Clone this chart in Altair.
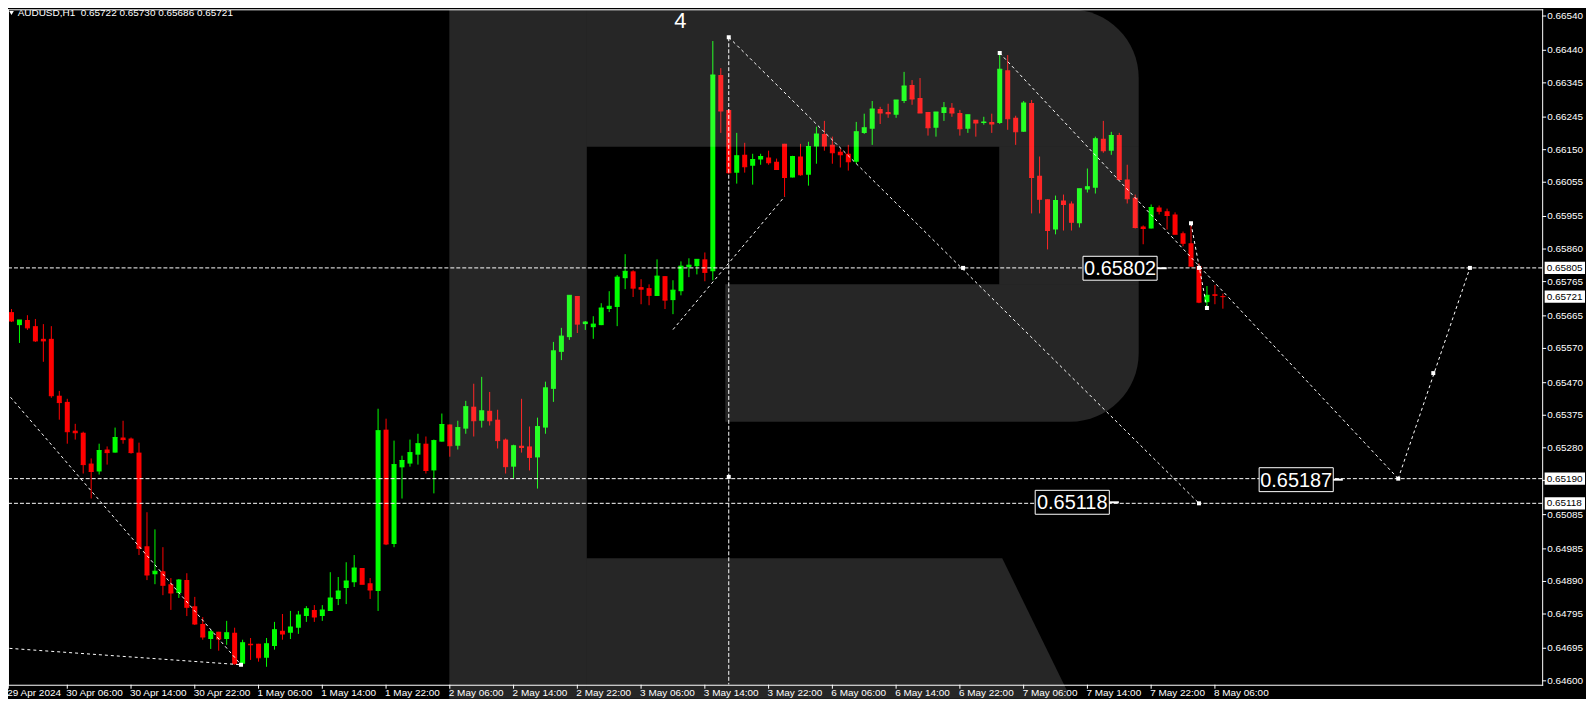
import altair as alt
import numpy as np
import pandas as pd

# ---------------- data (AUDUSD, H1) ----------------
opens = [
    0.65679, 0.65676, 0.65638, 0.65653, 0.65635, 0.65598, 0.65598, 0.65432, 0.65414, 0.65330,
    0.65324, 0.65234, 0.65211, 0.65275, 0.65266, 0.65310, 0.65307, 0.65266, 0.64993, 0.64911,
    0.64920, 0.64882, 0.64856, 0.64894, 0.64818, 0.64766, 0.64722, 0.64743, 0.64722, 0.64740,
    0.64650, 0.64708, 0.64708, 0.64667, 0.64702, 0.64746, 0.64740, 0.64755, 0.64789, 0.64807,
    0.64789, 0.64804, 0.64839, 0.64871, 0.64888, 0.64929, 0.64885, 0.64862, 0.65333, 0.64999,
    0.65223, 0.65234, 0.65260, 0.65292, 0.65214, 0.65298, 0.65348, 0.65286, 0.65336, 0.65400,
    0.65359, 0.65388, 0.65362, 0.65304, 0.65225, 0.65286, 0.65284, 0.65252, 0.65339, 0.65452,
    0.65560, 0.65603, 0.65723, 0.65641, 0.65632, 0.65638, 0.65685, 0.65691, 0.65775, 0.65795,
    0.65749, 0.65746, 0.65723, 0.65781, 0.65711, 0.65737, 0.65807, 0.65810, 0.65830, 0.65795,
    0.66368, 0.66266, 0.66083, 0.66135, 0.66103, 0.66121, 0.66127, 0.66115, 0.66167, 0.66069,
    0.66130, 0.66077, 0.66159, 0.66196, 0.66164, 0.66144, 0.66138, 0.66115, 0.66199, 0.66211,
    0.66269, 0.66260, 0.66252, 0.66292, 0.66339, 0.66301, 0.66260, 0.66214, 0.66257, 0.66272,
    0.66257, 0.66211, 0.66237, 0.66228, 0.66231, 0.66228, 0.66382, 0.66243, 0.66202, 0.66286,
    0.66074, 0.66005, 0.65917, 0.66002, 0.65993, 0.65935, 0.66034, 0.66039, 0.66182, 0.66147,
    0.66193, 0.66063, 0.66010, 0.65926, 0.65920, 0.65981, 0.65970, 0.65961, 0.65906, 0.65877,
    0.65810, 0.65705, 0.65728, 0.65722,
]
highs = [
    0.65679, 0.65685, 0.65653, 0.65667, 0.65656, 0.65641, 0.65635, 0.65446, 0.65423, 0.65350,
    0.65327, 0.65249, 0.65292, 0.65284, 0.65339, 0.65359, 0.65310, 0.65295, 0.65092, 0.65042,
    0.64990, 0.64900, 0.64897, 0.64914, 0.64845, 0.64786, 0.64749, 0.64743, 0.64775, 0.64755,
    0.64720, 0.64725, 0.64708, 0.64725, 0.64772, 0.64795, 0.64804, 0.64804, 0.64818, 0.64821,
    0.64821, 0.64917, 0.64903, 0.64946, 0.64967, 0.64929, 0.64900, 0.65394, 0.65365, 0.65301,
    0.65257, 0.65304, 0.65321, 0.65313, 0.65304, 0.65380, 0.65348, 0.65359, 0.65417, 0.65467,
    0.65487, 0.65443, 0.65391, 0.65307, 0.65289, 0.65423, 0.65342, 0.65368, 0.65473, 0.65589,
    0.65630, 0.65725, 0.65723, 0.65650, 0.65664, 0.65702, 0.65737, 0.65784, 0.65845, 0.65798,
    0.65772, 0.65757, 0.65830, 0.65781, 0.65769, 0.65824, 0.65833, 0.65830, 0.65850, 0.66467,
    0.66388, 0.66269, 0.66199, 0.66170, 0.66138, 0.66138, 0.66147, 0.66124, 0.66167, 0.66132,
    0.66167, 0.66173, 0.66217, 0.66234, 0.66188, 0.66153, 0.66164, 0.66231, 0.66255, 0.66292,
    0.66275, 0.66284, 0.66295, 0.66377, 0.66353, 0.66359, 0.66260, 0.66260, 0.66289, 0.66286,
    0.66266, 0.66252, 0.66237, 0.66246, 0.66255, 0.66432, 0.66426, 0.66249, 0.66292, 0.66295,
    0.66130, 0.66005, 0.66016, 0.66019, 0.65999, 0.66036, 0.66095, 0.66188, 0.66234, 0.66202,
    0.66199, 0.66106, 0.66019, 0.65929, 0.65990, 0.65987, 0.65978, 0.65967, 0.65911, 0.65929,
    0.65818, 0.65752, 0.65755, 0.65730,
]
lows = [
    0.65586, 0.65647, 0.65586, 0.65624, 0.65589, 0.65531, 0.65426, 0.65362, 0.65292, 0.65304,
    0.65205, 0.65132, 0.65202, 0.65231, 0.65266, 0.65292, 0.65263, 0.64967, 0.64894, 0.64882,
    0.64850, 0.64807, 0.64842, 0.64789, 0.64763, 0.64720, 0.64693, 0.64688, 0.64705, 0.64647,
    0.64647, 0.64661, 0.64656, 0.64641, 0.64691, 0.64720, 0.64722, 0.64737, 0.64772, 0.64772,
    0.64775, 0.64804, 0.64821, 0.64824, 0.64874, 0.64882, 0.64839, 0.64804, 0.64996, 0.64990,
    0.65132, 0.65225, 0.65231, 0.65205, 0.65147, 0.65298, 0.65254, 0.65275, 0.65321, 0.65313,
    0.65339, 0.65345, 0.65278, 0.65205, 0.65191, 0.65266, 0.65214, 0.65161, 0.65321, 0.65414,
    0.65536, 0.65595, 0.65615, 0.65624, 0.65598, 0.65638, 0.65676, 0.65635, 0.65743, 0.65720,
    0.65699, 0.65696, 0.65723, 0.65685, 0.65670, 0.65725, 0.65778, 0.65786, 0.65766, 0.65769,
    0.66199, 0.66080, 0.66051, 0.66083, 0.66048, 0.66106, 0.66106, 0.66092, 0.66013, 0.66069,
    0.66074, 0.66045, 0.66109, 0.66147, 0.66109, 0.66098, 0.66089, 0.66109, 0.66196, 0.66164,
    0.66225, 0.66243, 0.66243, 0.66286, 0.66281, 0.66257, 0.66191, 0.66188, 0.66234, 0.66246,
    0.66191, 0.66199, 0.66188, 0.66223, 0.66199, 0.66225, 0.66208, 0.66164, 0.66202, 0.65964,
    0.65964, 0.65859, 0.65903, 0.65914, 0.65914, 0.65923, 0.66025, 0.66022, 0.66141, 0.66135,
    0.66063, 0.65993, 0.65920, 0.65874, 0.65920, 0.65961, 0.65917, 0.65903, 0.65868, 0.65810,
    0.65702, 0.65691, 0.65699, 0.65686,
]
closes = [
    0.65670, 0.65650, 0.65653, 0.65630, 0.65592, 0.65592, 0.65432, 0.65412, 0.65327, 0.65324,
    0.65231, 0.65211, 0.65272, 0.65266, 0.65310, 0.65304, 0.65266, 0.64987, 0.64909, 0.64920,
    0.64879, 0.64856, 0.64894, 0.64815, 0.64766, 0.64728, 0.64743, 0.64722, 0.64740, 0.64650,
    0.64711, 0.64705, 0.64667, 0.64708, 0.64749, 0.64737, 0.64757, 0.64792, 0.64810, 0.64786,
    0.64807, 0.64842, 0.64862, 0.64891, 0.64929, 0.64882, 0.64865, 0.65330, 0.64999, 0.65231,
    0.65243, 0.65266, 0.65292, 0.65214, 0.65301, 0.65348, 0.65286, 0.65339, 0.65400, 0.65359,
    0.65388, 0.65359, 0.65301, 0.65225, 0.65286, 0.65281, 0.65252, 0.65342, 0.65455, 0.65563,
    0.65606, 0.65725, 0.65641, 0.65647, 0.65641, 0.65688, 0.65693, 0.65778, 0.65795, 0.65746,
    0.65743, 0.65725, 0.65781, 0.65711, 0.65740, 0.65810, 0.65813, 0.65830, 0.65792, 0.66368,
    0.66263, 0.66083, 0.66132, 0.66100, 0.66121, 0.66130, 0.66112, 0.66092, 0.66069, 0.66130,
    0.66077, 0.66159, 0.66196, 0.66161, 0.66141, 0.66135, 0.66115, 0.66202, 0.66214, 0.66269,
    0.66257, 0.66255, 0.66295, 0.66336, 0.66298, 0.66257, 0.66214, 0.66260, 0.66272, 0.66257,
    0.66211, 0.66252, 0.66228, 0.66231, 0.66225, 0.66385, 0.66240, 0.66202, 0.66286, 0.66069,
    0.66005, 0.65914, 0.66002, 0.65990, 0.65938, 0.66036, 0.66042, 0.66182, 0.66147, 0.66191,
    0.66063, 0.66007, 0.65923, 0.65920, 0.65981, 0.65970, 0.65958, 0.65903, 0.65877, 0.65810,
    0.65705, 0.65725, 0.65725, 0.65721,
]

time_labels = [
    "29 Apr 2024", "30 Apr 06:00", "30 Apr 14:00", "30 Apr 22:00", "1 May 06:00",
    "1 May 14:00", "1 May 22:00", "2 May 06:00", "2 May 14:00", "2 May 22:00",
    "3 May 06:00", "3 May 14:00", "3 May 22:00", "6 May 06:00", "6 May 14:00",
    "6 May 22:00", "7 May 06:00", "7 May 14:00", "7 May 22:00", "8 May 06:00",
]
time_ticks = [0.6, 8, 16, 24, 32, 40, 48, 56, 64, 72, 80, 88, 96, 104, 112, 120, 128, 136, 144, 152]

price_ticks = [
    0.66540, 0.66440, 0.66345, 0.66245, 0.66150, 0.66055, 0.65955, 0.65860, 0.65765, 0.65665,
    0.65570, 0.65470, 0.65375, 0.65280, 0.65185, 0.65085, 0.64985, 0.64890, 0.64795, 0.64695,
    0.64600,
]

level_prices = [0.65805, 0.65190, 0.65118]

# forecast / wave lines (bar index, price)
seg_ids = ["a", "a", "b", "b", "c", "c", "d", "d", "e", "e", "f", "f", "g", "g"]
seg_bars = [-0.1, 29.8, 0.0, 29.8, 84.0, 98.0, 91.0, 150.0, 125.0, 175.0, 149.0, 151.0, 175.0, 184.0]
seg_prices = [0.65454, 0.64647, 0.64696, 0.64647, 0.65625, 0.66013, 0.66478, 0.65118,
              0.66432, 0.65190, 0.65935, 0.65688, 0.65190, 0.65805]
vline_bar = [91.0]
vline_top = [0.66478]
vline_bottom = [0.64589]

marker_bars = [91, 125, 149, 151, 150, 120.4, 150, 175, 179.4, 184, 91, 29.8]
marker_prices = [0.66478, 0.66432, 0.65935, 0.65688, 0.65805, 0.65805, 0.65118, 0.65190,
                 0.65498, 0.65805, 0.65195, 0.64647]

box_texts = ["0.65802", "0.65187", "0.65118"]
box_bars = [140.1, 162.2, 134.1]
box_prices = [0.65804, 0.65187, 0.65121]

tag_texts = ["0.65805", "0.65721", "0.65190", "0.65118"]
tag_prices = [0.65805, 0.65721, 0.65190, 0.65118]

wave_labels = ["4"]
title_text = ["AUDUSD,H1\u00a0\u00a00.65722 0.65730 0.65686 0.65721"]

# ---------------- geometry ----------------
W, H = 1540, 678
X_DOM = [0.5625, 193.0625]
Y_TOP, Y_BOT = 0.665596, 0.645886
xscale = alt.Scale(domain=X_DOM, nice=False, zero=False)
yscale = alt.Scale(domain=[Y_BOT, Y_TOP], nice=False, zero=False)
FONT = "Liberation Sans"


def X(f):
    return alt.X(f, type="quantitative", scale=xscale, axis=None)


def Y(f):
    return alt.Y(f, type="quantitative", scale=yscale, axis=None)


# ---------------- candles ----------------
cd = pd.DataFrame({"i": np.arange(len(opens)), "o": opens, "h": highs, "l": lows, "c": closes})
cd["dir"] = np.where(cd["c"] >= cd["o"], "up", "down")
col = alt.Color("dir:N", scale=alt.Scale(domain=["up", "down"], range=["#00ff00", "#ff0000"]), legend=None)

wick = alt.Chart(cd).mark_rule(strokeWidth=1, clip=True).encode(
    x=X("i"), y=Y("l"), y2="h:Q", color=col)
body = alt.Chart(cd).mark_rule(strokeWidth=5, strokeCap="butt", clip=True).encode(
    x=X("i"), y=Y("o"), y2="c:Q", color=col)
doji = alt.Chart(cd).mark_tick(orient="horizontal", size=5, thickness=1, opacity=1, clip=True).encode(
    x=X("i"), y=Y("c"), color=col)

# ---------------- axes drawn as marks ----------------
yt = pd.DataFrame({"p": price_ticks, "t": ["%.5f" % v for v in price_ticks]})
y_ticks = alt.Chart(yt).mark_rule(color="white", strokeWidth=1, clip=False).encode(
    x=alt.value(W), x2=alt.value(W + 4), y=Y("p"))
y_labels = alt.Chart(yt).mark_text(font=FONT, fontSize=10, color="white", align="left",
                                   baseline="middle", clip=False).encode(
    x=alt.value(W + 5), y=Y("p"), text="t:N")

xt = pd.DataFrame({"i": time_ticks, "t": time_labels})
x_ticks = alt.Chart(xt).mark_rule(color="white", strokeWidth=1, clip=False).encode(
    x=X("i"), y=alt.value(H), y2=alt.value(H + 4))
x_labels = alt.Chart(xt).mark_text(font=FONT, fontSize=10, color="white", align="left",
                                   baseline="top", dx=-1, clip=False).encode(
    x=X("i"), y=alt.value(H + 3.5), text="t:N")

# ---------------- levels & forecast lines ----------------
levels = alt.Chart(pd.DataFrame({"p": level_prices})).mark_rule(
    color="white", strokeWidth=1, strokeDash=[4, 2]).encode(y=Y("p"))

segs = pd.DataFrame({"seg": seg_ids, "i": seg_bars, "p": seg_prices})
fore = alt.Chart(segs).mark_line(color="white", strokeWidth=1, strokeDash=[3, 3], clip=True).encode(
    x=X("i"), y=Y("p"), detail="seg:N")

vline = alt.Chart(pd.DataFrame({"i": vline_bar, "p": vline_top, "p2": vline_bottom})).mark_rule(
    color="white", strokeWidth=1, strokeDash=[4, 2], clip=True).encode(x=X("i"), y=Y("p"), y2="p2:Q")

markers = alt.Chart(pd.DataFrame({"i": marker_bars, "p": marker_prices})).mark_point(
    shape="square", filled=True, size=16, color="white", opacity=1, clip=True).encode(x=X("i"), y=Y("p"))


# ---------------- watermark (logo overlay, page-pixel geometry) ----------------
def wx(px):
    return (px - 3.5) / 8.0


def wy(py):
    return Y_TOP - (py - 8.0) * (Y_TOP - Y_BOT) / H


def rect_df(pieces):
    return pd.DataFrame({"i": [wx(a) for a, b, c, d in pieces], "i2": [wx(b) for a, b, c, d in pieces],
                         "p": [wy(c) for a, b, c, d in pieces], "p2": [wy(d) for a, b, c, d in pieces]})


WM = dict(color="white", opacity=0.15, clip=False)
wm_plain = alt.Chart(rect_df([(451, 589, 8, 700), (1003, 1143, 146, 284)])).mark_rect(**WM).encode(
    x=X("i"), x2="i2:Q", y=Y("p"), y2="p2:Q")
wm_top = alt.Chart(rect_df([(589, 1143, 8, 146)])).mark_rect(cornerRadiusTopRight=135, **WM).encode(
    x=X("i"), x2="i2:Q", y=Y("p"), y2="p2:Q")
wm_low = alt.Chart(rect_df([(728, 1143, 284, 422)])).mark_rect(cornerRadiusBottomRight=135, **WM).encode(
    x=X("i"), x2="i2:Q", y=Y("p"), y2="p2:Q")
leg = pd.DataFrame({"i": [wx(589), wx(1006), wx(1075)], "p": [wy(559), wy(559), wy(700)],
                    "p2": [wy(700), wy(700), wy(700)]})
wm_leg = alt.Chart(leg).mark_area(**WM).encode(x=X("i"), y=Y("p"), y2="p2:Q")

# ---------------- boxed price labels ----------------
bx = pd.DataFrame({"t": box_texts, "i": box_bars, "p": box_prices})
bx["x1"] = bx["i"] - 4.65
bx["x2"] = bx["i"] + 4.65
bx["y1"] = bx["p"] + 0.000349
bx["y2"] = bx["p"] - 0.000349
bx["t1"] = bx["i"] + 4.65
bx["t2"] = bx["i"] + 5.85
box_rect = alt.Chart(bx).mark_rect(fill="black", stroke="white", strokeWidth=1).encode(
    x=X("x1"), x2="x2:Q", y=Y("y1"), y2="y2:Q")
box_txt = alt.Chart(bx).mark_text(font=FONT, fontSize=20, color="white", align="center",
                                  baseline="middle", dy=1).encode(x=X("i"), y=Y("p"), text="t:N")
box_tick = alt.Chart(bx).mark_rule(color="white", strokeWidth=2).encode(x=X("t1"), x2="t2:Q", y=Y("p"))

# ---------------- right-axis price tags ----------------
tg = pd.DataFrame({"t": tag_texts, "p": tag_prices})
tg["y1"] = tg["p"] + 0.00018
tg["y2"] = tg["p"] - 0.00018
tag_rect = alt.Chart(tg).mark_rect(fill="white", clip=False).encode(
    x=alt.value(W + 2.5), x2=alt.value(W + 43), y=Y("y1"), y2="y2:Q")
tag_txt = alt.Chart(tg).mark_text(font=FONT, fontSize=10, color="black", align="left",
                                  baseline="middle", clip=False).encode(
    x=alt.value(W + 4.5), y=Y("p"), text="t:N")

# ---------------- texts ----------------
wave = alt.Chart(pd.DataFrame({"t": wave_labels})).mark_text(
    font=FONT, fontSize=22, color="white", align="center", baseline="alphabetic").encode(
    x=alt.value(675), y=alt.value(19), text="t:N")
title = alt.Chart(pd.DataFrame({"t": title_text})).mark_text(
    font=FONT, fontSize=10, color="white", align="left", baseline="middle").encode(
    x=alt.value(9.7), y=alt.value(4.2), text="t:N")
tri = alt.Chart(pd.DataFrame({"k": [0]})).mark_point(
    shape="triangle-down", filled=True, size=22, color="white", opacity=1).encode(
    x=alt.value(3.5), y=alt.value(3.8))

# ---------------- frame ----------------
one = pd.DataFrame({"k": [0]})
frame = [
    alt.Chart(one).mark_rule(color="white", strokeWidth=1).encode(x=alt.value(0.5), y=alt.value(0), y2=alt.value(H + 1)),
    alt.Chart(one).mark_rule(color="white", strokeWidth=1).encode(x=alt.value(0), x2=alt.value(W + 1), y=alt.value(0.5)),
    alt.Chart(one).mark_rule(color="white", strokeWidth=1).encode(x=alt.value(W + 0.5), y=alt.value(0), y2=alt.value(H + 1)),
    alt.Chart(one).mark_rule(color="white", strokeWidth=1).encode(x=alt.value(0), x2=alt.value(W + 1), y=alt.value(H + 0.5)),
]

chart = alt.layer(
    wick, body, doji, levels, fore, vline, markers,
    y_ticks, y_labels, x_ticks, x_labels,
    wm_plain, wm_top, wm_low, wm_leg,
    box_rect, box_txt, box_tick, tag_rect, tag_txt, wave, title, tri, *frame,
).properties(
    width=W, height=H,
    autosize=alt.AutoSizeParams(type="none"),
    padding={"left": 0, "top": 0, "right": 44, "bottom": 13},
    background="black",
).configure_view(strokeWidth=0)

chart.save("out.html", embed_options={"renderer": "svg", "actions": False})
